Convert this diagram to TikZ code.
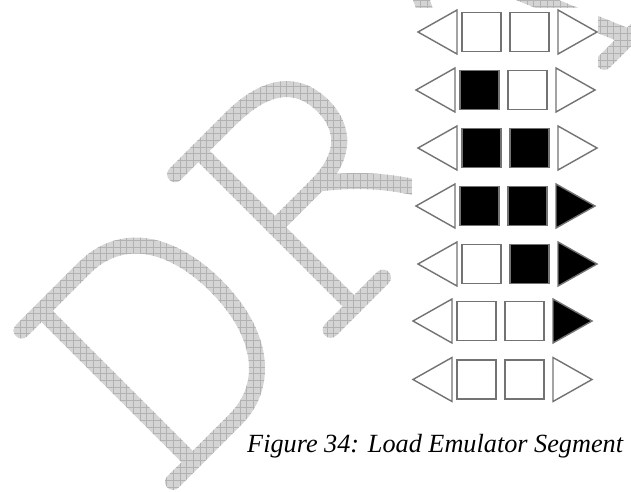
\documentclass[tikz,border=0pt]{standalone}
\usepackage{fontspec}
\setmainfont{Liberation Serif}
\usetikzlibrary{fadings}
\newcommand{\draftletters}{%
  \draw (-28,-6) -- (60,-6) .. controls (115,-6) and (141,40) .. (141,100)
    .. controls (141,165) and (110,208) .. (60,208) -- (-28,208);
  \draw (0,-6) -- (0,208);
  \draw (191,-8) -- (269,-8) .. controls (329,-8) and (344,20) .. (344,48)
    .. controls (344,80) and (324,100) .. (284,100) -- (224,100);
  \draw (224,-8) -- (224,212);
  \draw (191,212) -- (265,212);
  \draw (286,100) .. controls (324,130) and (349,160) .. (374,212);
  \draw (404,212) -- (514,-8) -- (609,216);
  \draw (384,212) -- (439,212);
  \draw (574,216) -- (649,216);
  \draw (440,140) -- (578,140);}
\begin{tikzfadingfrompicture}[name=draftfade,x=0.03cm,y=-0.03cm]
  \useasboundingbox (-631,-491) rectangle (631,491);
  \begin{scope}[shift={(45.7,315)},rotate=45,draw=transparent!0,
    line width=0.48cm,line cap=round,line join=round]
    \draftletters
  \end{scope}
\end{tikzfadingfrompicture}
\begin{document}
\begin{tikzpicture}[
  x=0.03cm,y=-0.03cm,
  wmark/.style={path fading=draftfade,fit fading=false},
  off/.style={draw=black!55,fill=white,line width=1.2pt,line join=miter},
  on/.style={draw=black!55,fill=black,line width=1.2pt,line join=miter},
  caption/.style={font=\fontsize{22.4}{26}\selectfont\itshape,inner sep=0pt}
]
  \useasboundingbox (0,0) rectangle (631,491);
  \fill[black!17,wmark] (0,0) rectangle (631,491);
  \draw[black!30,line width=0.3pt,wmark] (0,0) grid[xstep=0.2cm,ystep=0.2cm] (631,491);
  \fill[white] (412,8) rectangle (598,405);

  \draw[off] (418,32) -- ++(39,-22) -- ++(0,44) -- cycle;
  \draw[off] (462,12.5) rectangle ++(39,39);
  \draw[off] (510,12.5) rectangle ++(39,39);
  \draw[off] (597,32) -- ++(-39,-22) -- ++(0,44) -- cycle;

  \draw[off] (416,90) -- ++(39,-22) -- ++(0,44) -- cycle;
  \draw[on]  (460,70.5) rectangle ++(39,39);
  \draw[off] (508,70.5) rectangle ++(39,39);
  \draw[off] (595,90) -- ++(-39,-22) -- ++(0,44) -- cycle;

  \draw[off] (418,148) -- ++(39,-22) -- ++(0,44) -- cycle;
  \draw[on]  (462,128.5) rectangle ++(39,39);
  \draw[on]  (510,128.5) rectangle ++(39,39);
  \draw[off] (597,148) -- ++(-39,-22) -- ++(0,44) -- cycle;

  \draw[off] (416,206) -- ++(39,-22) -- ++(0,44) -- cycle;
  \draw[on]  (460,186.5) rectangle ++(39,39);
  \draw[on]  (508,186.5) rectangle ++(39,39);
  \draw[on]  (595,206) -- ++(-39,-22) -- ++(0,44) -- cycle;

  \draw[off] (418,264) -- ++(39,-22) -- ++(0,44) -- cycle;
  \draw[off] (462,244.5) rectangle ++(39,39);
  \draw[on]  (510,244.5) rectangle ++(39,39);
  \draw[on]  (597,264) -- ++(-39,-22) -- ++(0,44) -- cycle;

  \draw[off] (413,321) -- ++(39,-22) -- ++(0,44) -- cycle;
  \draw[off] (457,301.5) rectangle ++(39,39);
  \draw[off] (505,301.5) rectangle ++(39,39);
  \draw[on]  (592,321) -- ++(-39,-22) -- ++(0,44) -- cycle;

  \draw[off] (413,379.5) -- ++(39,-22) -- ++(0,44) -- cycle;
  \draw[off] (457,360) rectangle ++(39,39);
  \draw[off] (505,360) rectangle ++(39,39);
  \draw[off] (592,379.5) -- ++(-39,-22) -- ++(0,44) -- cycle;

  \node[caption,anchor=base west] (cap) at (247,452) {Figure 34: Load Emulator Segment};
\end{tikzpicture}
\end{document}
